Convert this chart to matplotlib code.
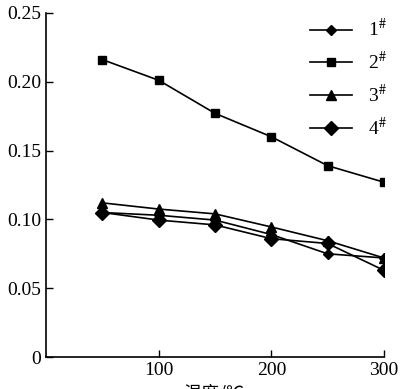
import matplotlib
matplotlib.use('Agg')
import matplotlib.pyplot as plt

# x: temperature, y: values
temps = [50, 100, 150, 200, 250, 300]
s1 = [0.105, 0.103, 0.0995, 0.089, 0.075, 0.072]
s2 = [0.216, 0.201, 0.177, 0.160, 0.139, 0.127]
s3 = [0.112, 0.1075, 0.104, 0.0945, 0.0845, 0.072]
s4 = [0.105, 0.0995, 0.096, 0.086, 0.0825, 0.063]
labels = ['1$^{\\#}$', '2$^{\\#}$', '3$^{\\#}$', '4$^{\\#}$']
yticks = [0, 0.05, 0.10, 0.15, 0.20, 0.25]
ytick_labels = ['0', '0.05', '0.10', '0.15', '0.20', '0.25']
xticks = [100, 200, 300]

plt.rcParams['font.family'] = ['Liberation Serif', 'Noto Sans CJK SC']
plt.rcParams['mathtext.fontset'] = 'stix'

fig = plt.figure(figsize=(4.16, 3.89), dpi=100)
ax = fig.add_axes([0.111, 0.082, 0.812, 0.885])

ax.plot(temps, s1, color='black', lw=1.2, marker='D', ms=5, label=labels[0])
ax.plot(temps, s2, color='black', lw=1.2, marker='s', ms=6, label=labels[1])
ax.plot(temps, s3, color='black', lw=1.2, marker='^', ms=7, label=labels[2])
ax.plot(temps, s4, color='black', lw=1.2, marker='D', ms=7, label=labels[3])

ax.set_xlim(0, 300)
ax.set_ylim(0, 0.25)
ax.set_xticks(xticks)
ax.set_xticklabels([str(t) for t in xticks], fontsize=14)
ax.set_yticks(yticks)
ax.set_yticklabels(ytick_labels, fontsize=14)
ax.tick_params(direction='in', length=5, width=1)
ax.spines['top'].set_visible(False)
ax.spines['right'].set_visible(False)
ax.spines['left'].set_linewidth(1.2)
ax.spines['bottom'].set_linewidth(1.2)

ax.legend(loc='upper right', bbox_to_anchor=(1.06, 1.035), frameon=False,
          fontsize=14, labelspacing=0.55, handlelength=2.2)

fig.text(0.515, -0.035, '温度/℃', ha='center', va='bottom', fontsize=13,
         family=['Noto Sans CJK SC', 'DejaVu Sans'])

fig.savefig('out.png', dpi=100)
